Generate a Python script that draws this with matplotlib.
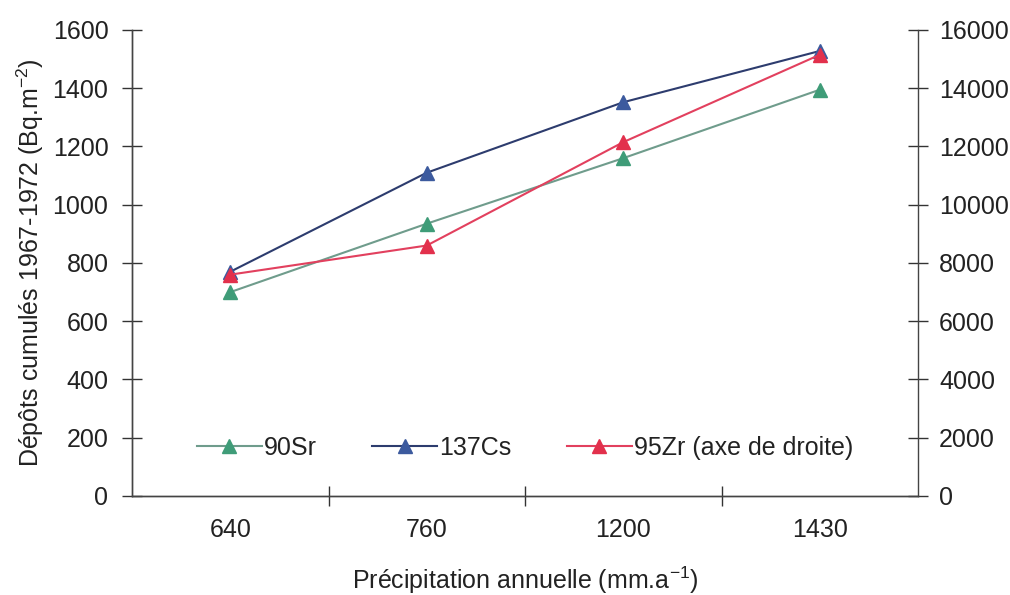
import numpy as np
import matplotlib.pyplot as plt
from matplotlib.ticker import FixedLocator, NullFormatter, FixedFormatter

plt.rcParams['font.family'] = ['Liberation Sans', 'DejaVu Sans']
plt.rcParams['mathtext.default'] = 'regular'

# Categories and series
precip = ['640', '760', '1200', '1430']
sr90 = [700, 935, 1160, 1395]
cs137 = [770, 1110, 1352, 1528]
zr95 = [7600, 8600, 12150, 15150]  # right axis

x = np.arange(len(precip))
FS = 18
TXT = '#222222'

fig = plt.figure(figsize=(10.1, 5.95), dpi=100)
ax = fig.add_axes([0.1307, 0.1664, 0.7783, 0.7832])
ax2 = ax.twinx()

l1, = ax.plot(x, sr90, color='#6f9c8c', lw=1.5, marker='^', ms=10,
              mfc='#3f9c78', mec='#3f9c78', label='90Sr')
l2, = ax.plot(x, cs137, color='#2d3c6e', lw=1.5, marker='^', ms=10,
              mfc='#3c5a9e', mec='#3c5a9e', label='137Cs')
l3, = ax2.plot(x, zr95, color='#e2405e', lw=1.5, marker='^', ms=10,
               mfc='#e2304c', mec='#e2304c', label='95Zr (axe de droite)')

ax.set_xlim(-0.5, 3.5)
ax.set_ylim(0, 1600)
ax2.set_ylim(0, 16000)
ax.set_yticks(np.arange(0, 1601, 200))
ax2.set_yticks(np.arange(0, 16001, 2000))

# tick marks between categories, labels centred under each category
ax.xaxis.set_major_locator(FixedLocator([0.5, 1.5, 2.5]))
ax.xaxis.set_major_formatter(NullFormatter())
ax.xaxis.set_minor_locator(FixedLocator(x))
ax.xaxis.set_minor_formatter(FixedFormatter(precip))
ax.tick_params(axis='x', which='major', direction='inout', length=14, width=1, colors='#333333')
ax.tick_params(axis='x', which='minor', length=0, pad=16, labelsize=FS, labelcolor=TXT)

ax.tick_params(axis='y', direction='inout', length=14, width=1, pad=10,
               labelsize=FS, colors='#333333', labelcolor=TXT)
ax2.tick_params(axis='y', direction='inout', length=14, width=1, pad=8,
                labelsize=FS, colors='#333333', labelcolor=TXT)

for a in (ax, ax2):
    a.spines['top'].set_visible(False)
    for s in ('left', 'right', 'bottom'):
        a.spines[s].set_color('#444444')
        a.spines[s].set_linewidth(1)
ax.spines['right'].set_visible(False)

ax.set_ylabel('Dépôts cumulés 1967-1972 (Bq.m$^{-2}$)', fontsize=FS, color=TXT, labelpad=5)
ax.set_xlabel('Précipitation annuelle (mm.a$^{-1}$)', fontsize=FS, color=TXT, labelpad=16)

ax.legend(handles=[l1, l2, l3], loc='lower center', bbox_to_anchor=(0.5, 0.03),
          ncol=3, frameon=False, fontsize=FS, handlelength=2.6, handletextpad=0.1,
          columnspacing=2.2, labelcolor=TXT)

fig.savefig('out.png', dpi=100)
